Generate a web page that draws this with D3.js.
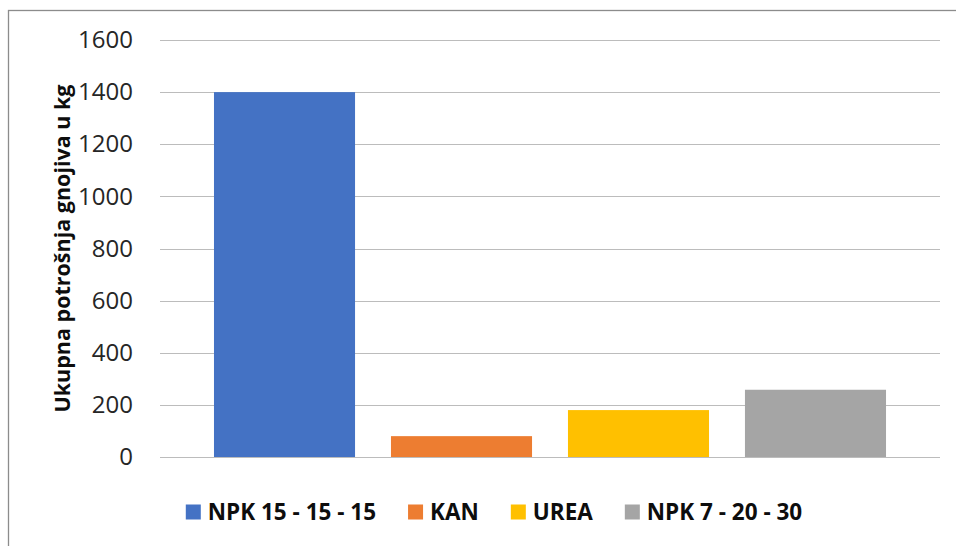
<!DOCTYPE html>
<html>
<head>
<meta charset="utf-8">
<script src="https://cdnjs.cloudflare.com/ajax/libs/d3/7.8.5/d3.min.js"></script>
<style>
  body { margin: 0; background: #fff; }
  svg { display: block; font-family: "Open Sans", "Liberation Sans", sans-serif; }
</style>
</head>
<body>
<svg width="956" height="546"></svg>
<script>
// chart values
var categories = ['NPK 15 - 15 - 15', 'KAN', 'UREA', 'NPK 7 - 20 - 30'];
var values = [1400, 80, 180, 258];
var colors = ['#4472C4', '#ED7D31', '#FFC000', '#A5A5A5'];
var yTicks = [0, 200, 400, 600, 800, 1000, 1200, 1400, 1600];
var yTitle = 'Ukupna potrošnja gnojiva u kg';

var svg = d3.select('svg');

var margin = {top: 40, left: 160, right: 16, bottom: 89},
    width = 956 - margin.left - margin.right,   // 780
    height = 546 - margin.top - margin.bottom;  // 417

// outer chart frame (runs off the right / bottom edge like the reference)
svg.append('rect')
  .attr('x', 8.5).attr('y', 10.5)
  .attr('width', 1000).attr('height', 600)
  .attr('fill', 'none')
  .attr('stroke', '#8c8c8c')
  .attr('stroke-width', 1.3);

var g = svg.append('g')
  .attr('transform', 'translate(' + margin.left + ',' + margin.top + ')');

var x = d3.scaleBand()
  .domain(categories)
  .range([0, width])
  .paddingInner(0.203)
  .paddingOuter(0.305);

var y = d3.scaleLinear()
  .domain([0, 1600])
  .range([height, 0]);

// gridlines
g.append('g')
  .selectAll('line')
  .data(yTicks).enter()
  .append('line')
  .attr('x1', 0).attr('x2', width)
  .attr('y1', function(d) { return Math.round(y(d)) + 0.5; })
  .attr('y2', function(d) { return Math.round(y(d)) + 0.5; })
  .attr('stroke', '#bcbcbc')
  .attr('stroke-width', 1.2);

// y labels
var yAxis = d3.axisLeft(y).tickValues(yTicks).tickFormat(d3.format('d')).tickSize(0).tickPadding(27);
g.append('g')
  .call(yAxis)
  .call(function(a) { a.select('.domain').remove(); })
  .selectAll('text')
  .attr('font-family', '"Open Sans", sans-serif')
  .attr('font-size', '24px')
  .attr('fill', '#262626');

// bars
g.selectAll('.bar')
  .data(values).enter()
  .append('rect')
  .attr('class', 'bar')
  .attr('x', function(d, i) { return x(categories[i]); })
  .attr('y', function(d) { return y(d); })
  .attr('width', x.bandwidth())
  .attr('height', function(d) { return height - y(d); })
  .attr('fill', function(d, i) { return colors[i]; });

// axis title
svg.append('text')
  .attr('text-anchor', 'middle')
  .attr('transform', 'translate(70,' + (margin.top + height / 2) + ')rotate(-90)')
  .attr('font-size', '21.5px')
  .attr('font-weight', 'bold')
  .attr('fill', '#0d0d0d')
  .text(yTitle);

// legend
var legend = svg.append('g');
var lx = 0;
categories.forEach(function(c, i) {
  var item = legend.append('g').attr('transform', 'translate(' + lx + ',0)');
  item.append('rect')
    .attr('x', 0).attr('y', -7.5)
    .attr('width', 15).attr('height', 15)
    .attr('fill', colors[i]);
  var t = item.append('text')
    .attr('x', 22).attr('y', 0)
    .attr('dy', '0.36em')
    .attr('font-size', '22.5px')
    .attr('font-weight', 'bold')
    .attr('fill', '#0d0d0d')
    .text(c);
  lx += 22 + t.node().getComputedTextLength() + 32;
});
var lw = lx - 32;
legend.attr('transform', 'translate(' + (494 - lw / 2) + ',512)');
</script>
</body>
</html>
